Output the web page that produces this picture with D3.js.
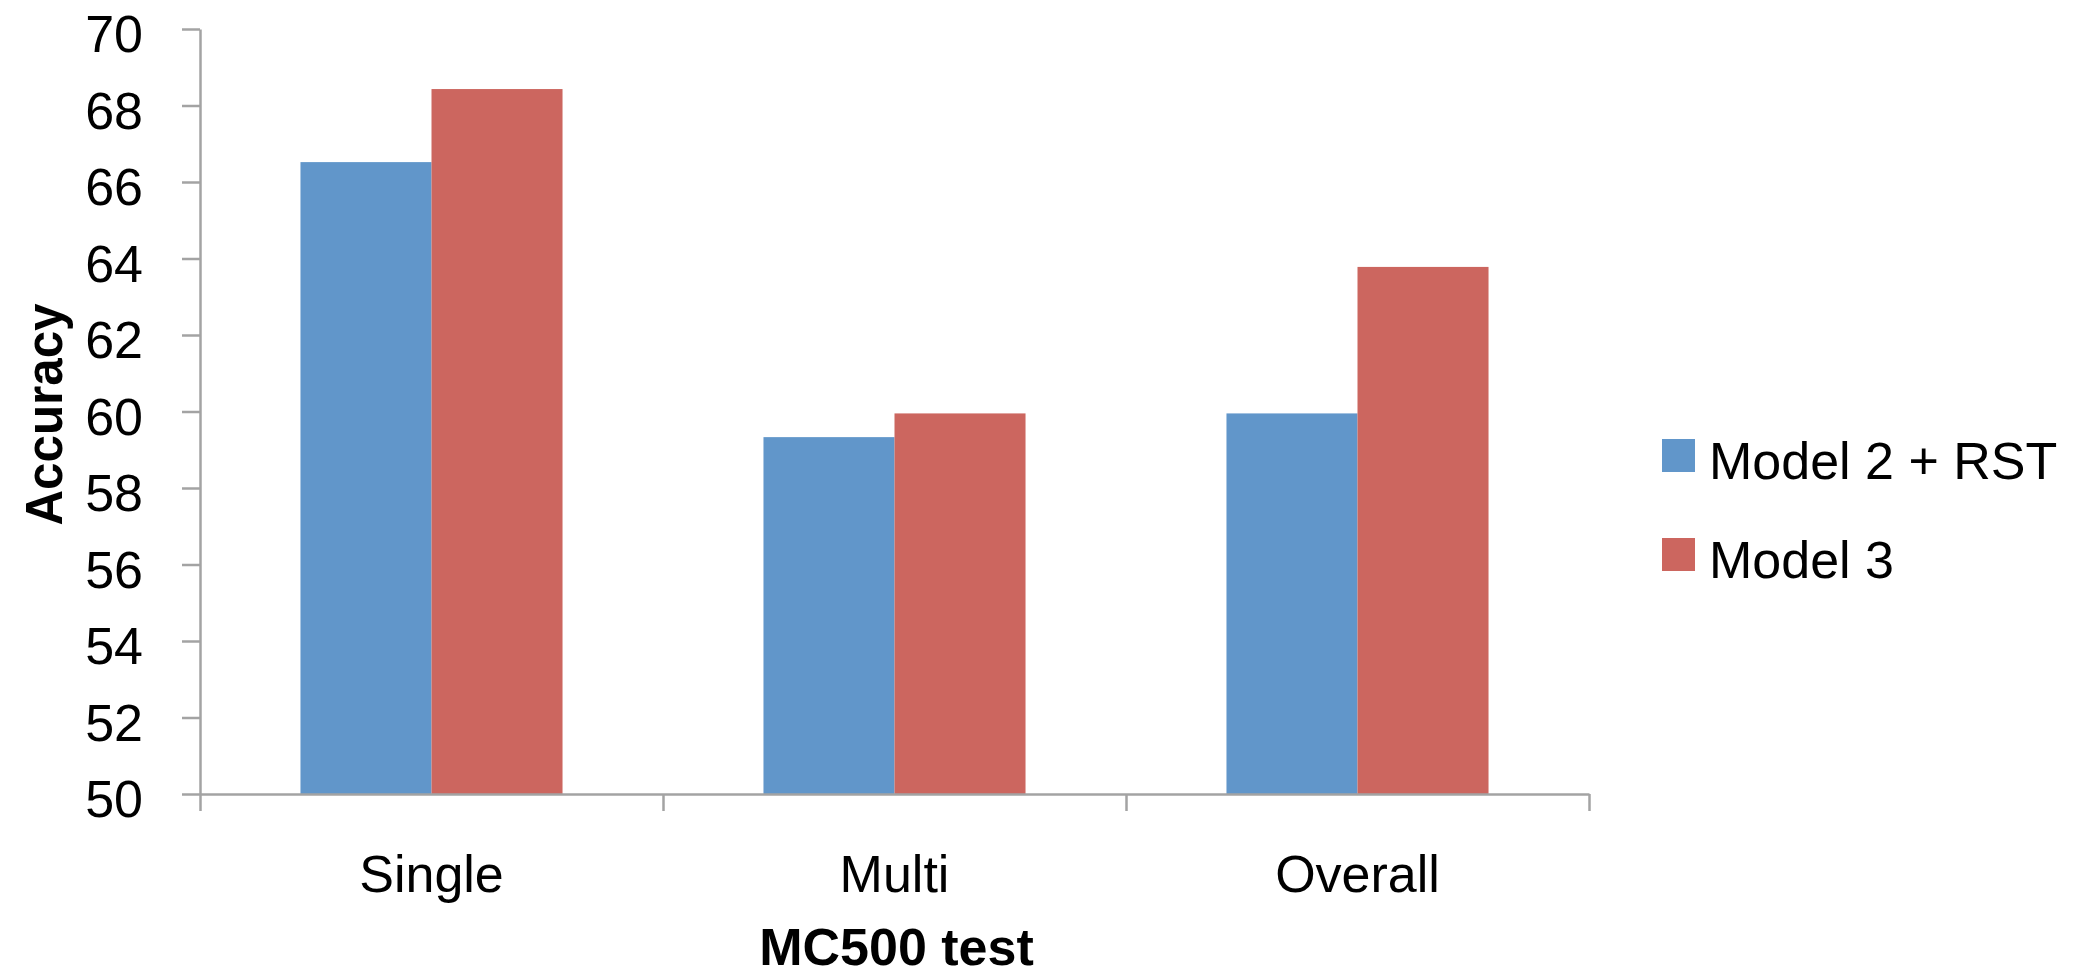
<!DOCTYPE html>
<html>
<head>
<meta charset="utf-8">
<script src="https://cdn.jsdelivr.net/npm/d3@7"></script>
<style>
  html, body { margin: 0; padding: 0; background: #fff; }
  svg { display: block; font-family: "Liberation Sans", Arial, sans-serif; }
</style>
</head>
<body>
<svg id="chart" width="2074" height="978"></svg>
<script>
const categories = ["Single", "Multi", "Overall"];
const seriesNames = ["Model 2 + RST", "Model 3"];
const model2RST = [66.52, 59.33, 59.95];
const model3 = [68.43, 59.95, 63.78];
const yTicks = [50, 52, 54, 56, 58, 60, 62, 64, 66, 68, 70];
const colors = ["#6196ca", "#cc665f"];
const xTitle = "MC500 test";
const yTitle = "Accuracy";

const svg = d3.select("#chart");
const plotLeft = 200, plotRight = 1589, plotTop = 29, plotBottom = 794;

const y = d3.scaleLinear().domain([50, 70]).range([plotBottom, plotTop]);
const x = d3.scaleBand().domain(categories).range([plotLeft, plotRight])
  .paddingInner(0.434).paddingOuter(0.217);
const xs = d3.scaleBand().domain(seriesNames).range([0, x.bandwidth()]);
const xEdge = d3.scaleLinear().domain([0, categories.length]).range([plotLeft, plotRight]);

const data = categories.map((c, i) => ({
  cat: c,
  vals: [
    { s: seriesNames[0], v: model2RST[i], c: colors[0] },
    { s: seriesNames[1], v: model3[i], c: colors[1] }
  ]
}));

// bars
const g = svg.append("g");
g.selectAll("g.grp").data(data).join("g")
  .attr("class", "grp")
  .attr("transform", d => `translate(${x(d.cat)},0)`)
  .selectAll("rect").data(d => d.vals).join("rect")
  .attr("x", d => xs(d.s))
  .attr("width", xs.bandwidth())
  .attr("y", d => y(d.v))
  .attr("height", d => y(50) - y(d.v))
  .attr("fill", d => d.c);

const axisColor = "#a3a3a3";

// y axis
const yAxis = svg.append("g")
  .attr("transform", `translate(${plotLeft},0)`)
  .call(d3.axisLeft(y).tickValues(yTicks).tickSize(18).tickPadding(39).tickSizeOuter(0));
yAxis.select(".domain").attr("stroke", axisColor).attr("stroke-width", 2.5);
yAxis.selectAll(".tick line").attr("stroke", axisColor).attr("stroke-width", 2.5);
yAxis.selectAll(".tick text")
  .attr("fill", "#000")
  .attr("font-size", 52)
  .attr("dy", "0.435em")
  .attr("font-family", "Liberation Sans, Arial, sans-serif");

// x axis boundary ticks
const xAxisEdge = svg.append("g")
  .attr("transform", `translate(0,${plotBottom})`)
  .call(d3.axisBottom(xEdge).ticks(categories.length).tickFormat("").tickSize(17).tickSizeOuter(0));
xAxisEdge.select(".domain").attr("stroke", axisColor).attr("stroke-width", 2.5);
xAxisEdge.selectAll(".tick line").attr("stroke", axisColor).attr("stroke-width", 2.5);

// x labels
const xAxis = svg.append("g")
  .attr("transform", `translate(0,${plotBottom})`)
  .call(d3.axisBottom(x).tickSize(0).tickSizeOuter(0));
xAxis.select(".domain").remove();
xAxis.selectAll(".tick text")
  .attr("fill", "#000")
  .attr("font-size", 52)
  .attr("y", 98)
  .attr("dy", 0)
  .attr("font-family", "Liberation Sans, Arial, sans-serif");

// axis titles
svg.append("text")
  .attr("x", (plotLeft + plotRight) / 2 + 2)
  .attr("y", 965)
  .attr("text-anchor", "middle")
  .attr("font-size", 52)
  .attr("font-weight", "bold")
  .text(xTitle);

svg.append("text")
  .attr("transform", `translate(62,${(plotTop + plotBottom) / 2 + 3}) rotate(-90)`)
  .attr("text-anchor", "middle")
  .attr("font-size", 52)
  .attr("font-weight", "bold")
  .attr("textLength", 222)
  .attr("lengthAdjust", "spacingAndGlyphs")
  .text(yTitle);

// legend
const legend = svg.append("g");
const lg = legend.selectAll("g").data(seriesNames).join("g")
  .attr("transform", (d, i) => `translate(1662,${439 + i * 99})`);
lg.append("rect").attr("width", 33).attr("height", 33)
  .attr("fill", (d, i) => colors[i]);
lg.append("text")
  .attr("x", 47)
  .attr("y", 40)
  .attr("font-size", 52)
  .attr("fill", "#000")
  .text(d => d);
</script>
</body>
</html>
